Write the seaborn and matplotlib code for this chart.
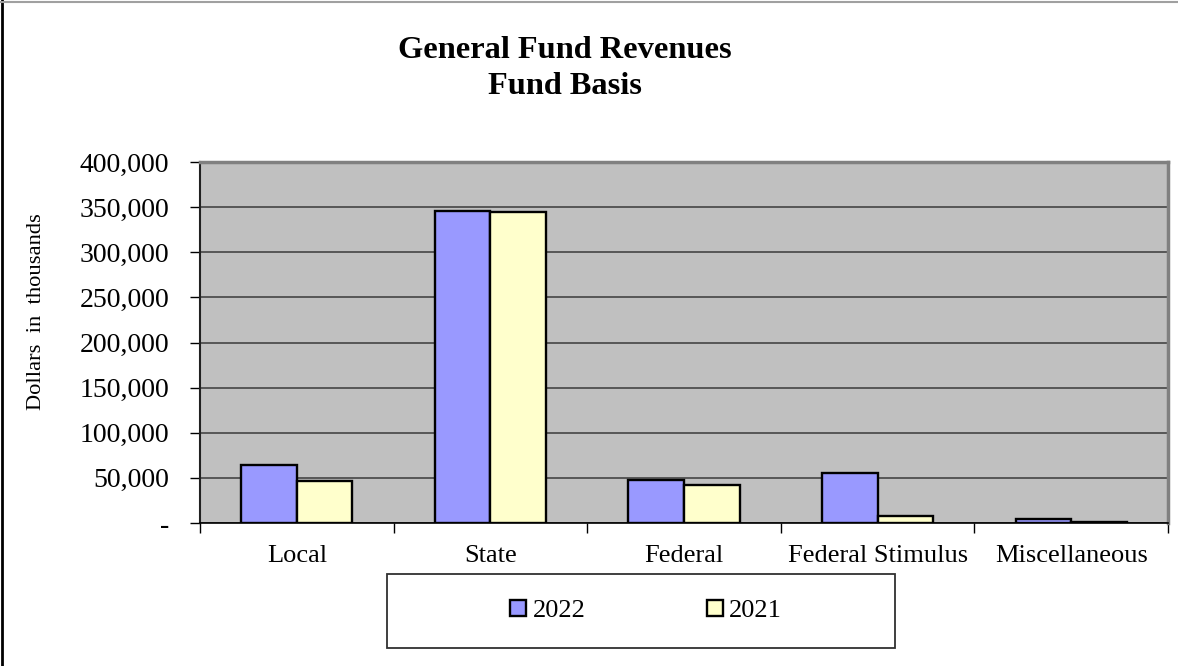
import pandas as pd
import seaborn as sns
import matplotlib.pyplot as plt
from matplotlib.ticker import FuncFormatter, FixedLocator
from matplotlib.patches import Rectangle
from matplotlib.lines import Line2D

# Data (dollars in thousands)
categories = ['Local', 'State', 'Federal', 'Federal Stimulus', 'Miscellaneous']
values_2022 = [64000, 345700, 47700, 55000, 4100]
values_2021 = [46500, 344300, 42100, 8100, 1500]
years = ['2022', '2021']
colors = ['#9999FF', '#FFFFCC']
y_ticks = list(range(0, 400001, 50000))

df = pd.DataFrame({
    'category': categories * 2,
    'value': values_2022 + values_2021,
    'year': [years[0]] * len(categories) + [years[1]] * len(categories),
})

plt.rcParams['font.family'] = ['Liberation Serif', 'DejaVu Serif']

fig = plt.figure(figsize=(11.78, 6.66), dpi=100)
ax = fig.add_axes([200 / 1178, 143 / 666, 968 / 1178, 361 / 666])
ax.set_facecolor('#C0C0C0')

sns.barplot(data=df, x='category', y='value', hue='year', hue_order=years,
            palette=colors, saturation=1, width=0.575, edgecolor='black',
            linewidth=1.7, errorbar=None, ax=ax, zorder=3)

# Axis limits and grid
ax.set_xlim(-0.5, len(categories) - 0.5)
ax.set_ylim(0, 400000)
ax.yaxis.set_major_locator(FixedLocator(y_ticks))
ax.yaxis.set_major_formatter(FuncFormatter(lambda v, p: '-' if v == 0 else f'{v:,.0f}'))
ax.grid(axis='y', color='#3a3a3a', linewidth=1.1, zorder=1)
ax.set_axisbelow(True)

# Tick styling: category labels without ticks, boundary ticks as minor
ax.tick_params(axis='x', which='major', length=0, pad=16, labelsize=19)
ax.set_xticks([i - 0.5 for i in range(len(categories) + 1)], minor=True)
ax.tick_params(axis='x', which='minor', length=7, width=1, direction='out')
ax.tick_params(axis='y', length=7, width=1, direction='out', pad=15, labelsize=20)
ax.set_xlabel('')
ax.set_ylabel('')

for side in ['top', 'right']:
    ax.spines[side].set_color('#808080')
    ax.spines[side].set_linewidth(2.5)
ax.spines['left'].set_color('#202020')
ax.spines['left'].set_linewidth(1.5)
ax.spines['bottom'].set_color('black')
ax.spines['bottom'].set_linewidth(1.2)

# Title and axis label
fig.text(565 / 1178, 1 - 51 / 666, 'General Fund Revenues', ha='center', va='center',
         fontsize=23.3, fontweight='bold')
fig.text(565 / 1178, 1 - 87 / 666, 'Fund Basis', ha='center', va='center',
         fontsize=23.3, fontweight='bold')
fig.text(37 / 1178, 1 - 312 / 666, 'Dollars  in  thousands', rotation=90,
         ha='center', va='center', fontsize=16.2)

# Legend in a framed box below the plot
handles, labels = ax.get_legend_handles_labels()
ax.get_legend().remove()
fig.add_artist(Rectangle((387 / 1178, 1 - 648 / 666), 508 / 1178, 74 / 666,
                         transform=fig.transFigure, fill=False,
                         edgecolor='#303030', linewidth=1.3))
fig.legend(handles, labels, loc='center', bbox_to_anchor=(646 / 1178, 1 - 611 / 666),
           ncol=2, frameon=False, fontsize=19, handlelength=0.6, handleheight=0.6,
           handletextpad=0.25, columnspacing=4.6)

# Figure border lines (left and top)
fig.add_artist(Line2D([1.5 / 1178, 1.5 / 1178], [0, 1], transform=fig.transFigure,
                      color='black', linewidth=2))
fig.add_artist(Line2D([0, 1], [1 - 2 / 666, 1 - 2 / 666], transform=fig.transFigure,
                      color='#a0a0a0', linewidth=1.5))

fig.savefig('out.png', dpi=100)
